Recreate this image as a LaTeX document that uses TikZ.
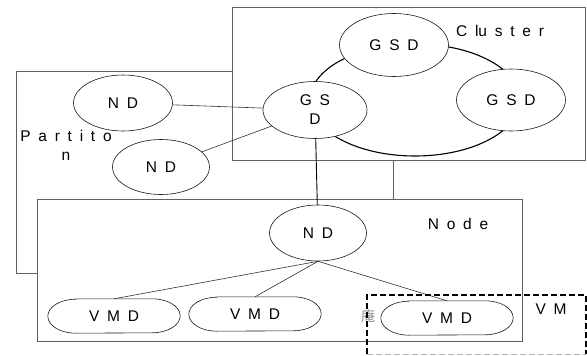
\documentclass[tikz,border=0pt]{standalone}
\usepackage{fontspec}
\setmainfont{Liberation Sans}
\newfontfamily\cjkfont{Noto Sans CJK JP}
\usetikzlibrary{shapes.geometric}
\newcommand\labelfont{\fontsize{15.5}{19}\selectfont\spaceskip=0.5em plus 0pt minus 0pt\relax}
\tikzset{
  boxline/.style={draw=black!62, line width=0.8pt},
  txt/.style={font=\labelfont, inner sep=0pt, align=center},
  ell/.style={ellipse, draw=black!90, line width=0.6pt, fill=white, inner sep=0pt, txt},
  vmdbox/.style={rectangle, inner sep=0pt, minimum width=132pt, minimum height=34pt, txt},
  conn/.style={draw=black!80, line width=0.6pt},
  vmbox/.style={draw=black, line width=1.4pt, dash pattern=on 6pt off 3pt},
}
\newcommand\vmdoutline[1]{\draw[draw=black!90, line width=0.6pt] ([xshift=28pt]#1.north west) -- ([xshift=-28pt]#1.north east) arc[start angle=90,end angle=-90,x radius=28pt,y radius=17pt] -- ([xshift=28pt]#1.south west) arc[start angle=270,end angle=90,x radius=28pt,y radius=17pt] -- cycle;}
\begin{document}
\begin{tikzpicture}[x=1pt,y=-1pt]
\useasboundingbox (0,0) rectangle (587,356);
% Partition box
\draw[boxline] (16,71) rectangle (393,273);
% Cluster box
\draw[boxline, fill=white] (232,7) rectangle (585,160);
% ring of the cluster
\draw[black, line width=1.1pt] (415,100) ellipse[x radius=105pt, y radius=56pt];
% Node box
\draw[boxline, fill=white] (37,199) rectangle (522,341);

% labels
\node[txt] (lcluster) at (500,31) {C lu s t e r};
\node[txt] (lpart) at (66,145) {P a r t i t o\\n};
\node[txt] (lnode) at (458,224) {N o d e};
\node[txt] (lvm) at (551,309) {V M};
\node[font=\cjkfont\fontsize{14}{16}\selectfont, text=black!45, inner sep=0pt] (lchar) at (368,316) {庵};

% GSD nodes
\node[ell, minimum width=109pt, minimum height=63pt] (gsdtop) at (394,45) {G S D};
\node[ell, minimum width=109pt, minimum height=62pt] (gsdright) at (511,100) {G S D};
\node[ell, minimum width=104pt, minimum height=57pt] (gsdleft) at (315,110) {G S\\D};

% ND nodes
\node[ell, minimum width=99pt, minimum height=56pt] (nd1) at (123,103) {N D};
\node[ell, minimum width=97pt, minimum height=55pt] (nd2) at (161,167) {N D};
\node[ell, minimum width=97pt, minimum height=56pt] (nd3) at (318,233) {N D};

% VMD nodes
\node[vmdbox] (vmd1) at (114,316) {V M D};
\node[vmdbox] (vmd2) at (255,314) {V M D};
\node[vmdbox] (vmd3) at (447,318) {V M D};
\vmdoutline{vmd1}
\vmdoutline{vmd2}
\vmdoutline{vmd3}

% connectors
\draw[conn] (nd1) -- (gsdleft);
\draw[conn] (nd2) -- (gsdleft);
\draw[conn, line width=0.9pt, draw=black] (gsdleft) -- (nd3);
\draw[conn] (nd3.south) -- (vmd1.north);
\draw[conn] (nd3.south) -- (vmd2.north);
\draw[conn] (nd3.south) -- (vmd3.north);

% VM box
\draw[vmbox] (367,354) -- (367,295) -- (586,295) -- (586,354);
\draw[draw=black!30, line width=1pt, dash pattern=on 6pt off 3pt] (367,354) -- (586,354);
\end{tikzpicture}
\end{document}
